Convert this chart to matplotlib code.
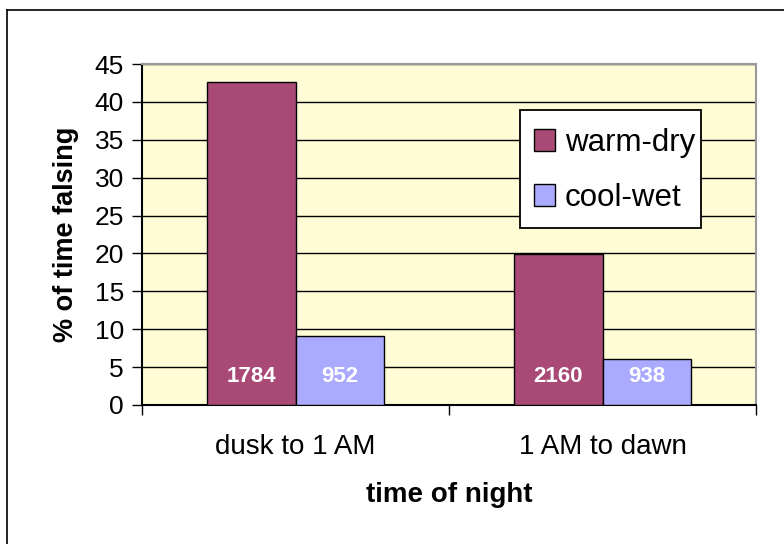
import numpy as np
import matplotlib
matplotlib.use("Agg")
import matplotlib.pyplot as plt
from matplotlib.lines import Line2D
from matplotlib.patches import Rectangle

plt.rcParams['font.family'] = ['Liberation Sans', 'DejaVu Sans']

# data
categories = ['dusk to 1 AM', '1 AM to dawn']
series_names = ['warm-dry', 'cool-wet']
warm_dry = [42.6, 19.9]
cool_wet = [9.15, 6.1]
warm_dry_n = ['1784', '2160']
cool_wet_n = ['952', '938']
y_ticks = [0, 5, 10, 15, 20, 25, 30, 35, 40, 45]

colors = ['#A94A76', '#AAAAFF']
bg = '#FFFCD6'

fig = plt.figure(figsize=(7.84, 5.44), dpi=100)
ax = fig.add_axes([142/784, 1 - 405/544, (756 - 142)/784, (405 - 64)/544])
ax.set_facecolor(bg)

x = np.arange(len(categories))
w = 0.288
b1 = ax.bar(x - w/2, warm_dry, w, color=colors[0], edgecolor='black', lw=1.0,
            label=series_names[0], zorder=3)
b2 = ax.bar(x + w/2, cool_wet, w, color=colors[1], edgecolor='black', lw=1.0,
            label=series_names[1], zorder=3)

#counts written inside the bars
for bars, labels in ((b1, warm_dry_n), (b2, cool_wet_n)):
    for r, t in zip(bars, labels):
        ax.text(r.get_x() + r.get_width()/2, 3.8, t, color='white', fontsize=16,
                fontweight='bold', ha='center', va='center', zorder=4)

ax.set_xlim(-0.5, 1.5)
ax.set_ylim(0, 45)
ax.set_yticks(y_ticks)
ax.set_yticklabels([str(v) for v in y_ticks], fontsize=19)
ax.yaxis.grid(True, color='black', lw=1.0, zorder=1)
ax.set_axisbelow(True)
ax.tick_params(axis='y', direction='out', length=7, width=1.0, pad=6)

# category ticks on the boundaries, labels in between
ax.set_xticks([-0.5, 0.5, 1.5])
ax.set_xticklabels([])
ax.set_xticks(x, minor=True)
ax.set_xticklabels(categories, minor=True, fontsize=20)
ax.tick_params(axis='x', which='major', direction='out', length=7, width=1.0)
ax.tick_params(axis='x', which='minor', length=0, pad=21)

for s in ('top', 'right'):
    ax.spines[s].set_color('#999999')
    ax.spines[s].set_linewidth(1.5)
for s in ('left', 'bottom'):
    ax.spines[s].set_color('black')
    ax.spines[s].set_linewidth(1.5)

ax.set_ylabel('% of time falsing', fontsize=19.5, fontweight='bold', labelpad=11)
ax.set_xlabel('time of night', fontsize=20, fontweight='bold', labelpad=16)

# legend box drawn by hand so its size matches
box = Rectangle((520/784, 1 - 228/544), (701 - 520)/784, (228 - 110)/544,
                transform=fig.transFigure, facecolor='white', edgecolor='black',
                lw=1.3, zorder=4.5)
ax.add_artist(box)
leg = ax.legend(loc='upper left', bbox_to_anchor=(520/784, 1 - 114/544),
                bbox_transform=fig.transFigure, fontsize=22.5, frameon=False,
                handlelength=0.68, handleheight=0.68, handletextpad=0.3,
                labelspacing=0.8, borderpad=0.45, borderaxespad=0)
leg.set_zorder(5)

# outer chart border (only left and top visible)
fig.add_artist(Line2D([7/784, 7/784], [0, 1 - 10/544], color='black', lw=1.2))
fig.add_artist(Line2D([7/784, 1], [1 - 10/544, 1 - 10/544], color='black', lw=1.2))

fig.savefig('out.png', dpi=100, facecolor='white')
